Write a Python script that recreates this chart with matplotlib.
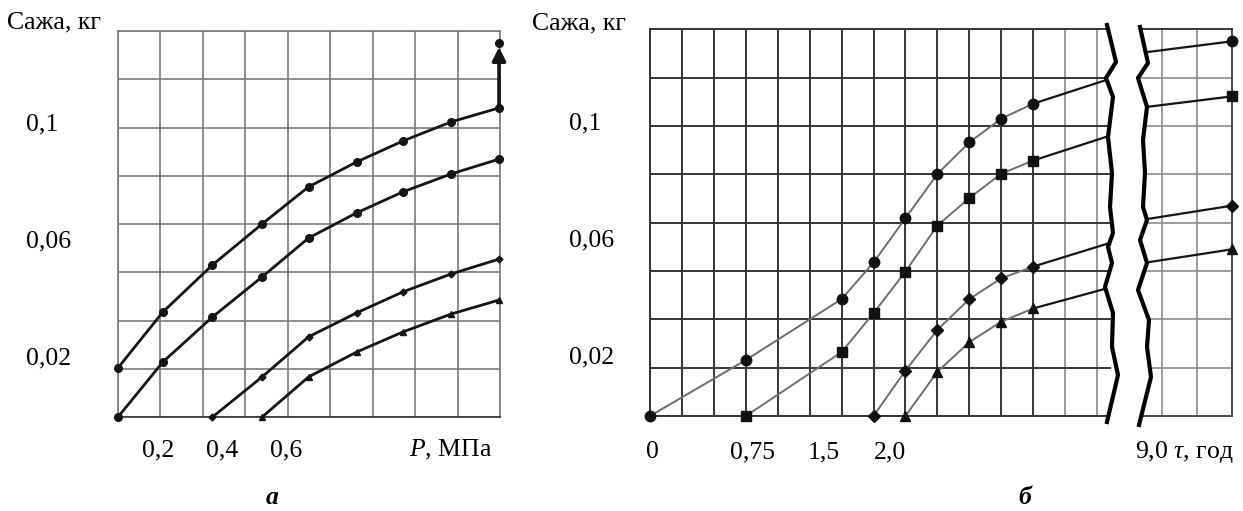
import numpy as np
import matplotlib.pyplot as plt
from matplotlib.patches import Polygon
from matplotlib.transforms import blended_transform_factory

plt.rcParams['font.family'] = ['Liberation Serif', 'DejaVu Serif']
plt.rcParams['mathtext.fontset'] = 'custom'
plt.rcParams['mathtext.rm'] = 'Liberation Serif'
plt.rcParams['mathtext.it'] = 'Liberation Serif:italic'

# --- panel a: soot mass vs pressure ---
p_mpa = [0.075, 0.215, 0.37, 0.525, 0.67, 0.82, 0.965, 1.115, 1.265]
soot_a1 = [0.0168, 0.0359, 0.0520, 0.0660, 0.0787, 0.0872, 0.0944, 0.1009, 0.1057]
soot_a2 = [0.0, 0.0188, 0.0342, 0.0479, 0.0612, 0.0698, 0.0770, 0.0831, 0.0882]
soot_a3 = [0.0, 0.0137, 0.0274, 0.0356, 0.0428, 0.0489, 0.0540]   # from p_mpa[2]
soot_a4 = [0.0, 0.0137, 0.0222, 0.0291, 0.0352, 0.0400]           # from p_mpa[3]
soot_a1_top = 0.1280
a_xticks = [0.2, 0.4, 0.6]
a_xlabels = ['0,2', '0,4', '0,6']

# --- panel b: soot mass vs time ---
tau = [0.0, 0.75, 1.5, 1.75, 2.0, 2.25, 2.5, 2.75, 3.0]
soot_b1 = [0.0, 0.0191, 0.0399, 0.0524, 0.0675, 0.0826, 0.0934, 0.1015, 0.1066]
soot_b2 = [0.0, 0.0218, 0.0351, 0.0493, 0.0650, 0.0744, 0.0827, 0.0872]  # from tau[1]
soot_b3 = [0.0, 0.0155, 0.0294, 0.0399, 0.0470, 0.0510]                  # from tau[3]
soot_b4 = [0.0, 0.0151, 0.0252, 0.0322, 0.0367]                          # from tau[4]
tau_break = 3.58
soot_at_break = [0.1148, 0.0954, 0.0588, 0.0436]
tau_after = [8.39, 9.0]
soot_after = [[0.1242, 0.1279], [0.1055, 0.1091], [0.0672, 0.0718], [0.0524, 0.0569]]
b_xticks = [0.02, 0.80, 1.36, 1.88]   # label spots as printed
b_xlabels = ['0', '0,75', '1,5', '2,0']

y_ticks = [0.02, 0.06, 0.1]
y_labels = ['0,02', '0,06', '0,1']
row = 0.0165
y_top = 8 * row

W, H = 1243, 511
FS = 18.5


def box(l, t, r, b):
    return [l / W, 1 - b / H, (r - l) / W, (b - t) / H]


def ftext(x, y, s, **kw):
    fig.text(x / W, 1 - y / H, s, **kw)


fig = plt.figure(figsize=(W / 100, H / 100), dpi=100)

# ---------------- panel a ----------------
ax1 = fig.add_axes(box(118, 31, 500, 417))
ax1.set_xlim(0.075, 1.268)
ax1.set_ylim(0, y_top)
ax1.set_xticks(np.linspace(0.075, 1.268, 10))
ax1.set_yticks(np.arange(9) * row)
ax1.grid(True, color='#7a7a7a', lw=1.2)
ax1.tick_params(length=0, labelbottom=False, labelleft=False)
for s in ax1.spines.values():
    s.set_color('#7a7a7a')
    s.set_linewidth(1.2)
ax1.spines['bottom'].set_color('#333333')

kw = dict(color='#151515', lw=2, clip_on=False, zorder=3)
ax1.plot(p_mpa, soot_a1, marker='o', ms=5.5, **kw)
ax1.plot(p_mpa, soot_a2, marker='o', ms=5.5, **kw)
ax1.plot(p_mpa[2:], soot_a3, marker='D', ms=3.5, **kw)
ax1.plot(p_mpa[3:], soot_a4, marker='^', ms=4, **kw)
ax1.annotate('', xy=(p_mpa[-1], soot_a1_top - 0.0015), xytext=(p_mpa[-1], soot_a1[-1]),
             arrowprops=dict(arrowstyle='-|>', lw=2.6, color='#151515', mutation_scale=20,
                             shrinkA=0, shrinkB=0),
             annotation_clip=False, zorder=4)
ax1.plot([p_mpa[-1]], [soot_a1_top], marker='o', ms=5.5, color='#151515', clip_on=False, zorder=4)

tr = blended_transform_factory(fig.transFigure, ax1.transData)
for v, t in zip(y_ticks, y_labels):
    ax1.text(26 / W, v, t, transform=tr, ha='left', va='center', fontsize=FS)
tr = blended_transform_factory(ax1.transData, fig.transFigure)
for v, t in zip(a_xticks, a_xlabels):
    ax1.text(v, 1 - 450 / H, t, transform=tr, ha='center', va='center', fontsize=FS)
ftext(409, 450, '$P$, МПа', ha='left', va='center', fontsize=FS)
ftext(7, 22, 'Сажа, кг', ha='left', va='center', fontsize=FS)
ftext(272, 497, 'а', ha='center', va='center', fontsize=FS, fontweight='bold', style='italic')

# ---------------- panel b, main part ----------------
ax2 = fig.add_axes(box(650, 29.3, 1111, 416))
ax2.set_xlim(0, 0.25 * 461 / 31.93)
ax2.set_ylim(0, y_top)
ax2.set_xticks(np.arange(0, 3.51, 0.25))
ax2.set_yticks(np.arange(9) * row)
ax2.grid(True, color='#363636', lw=1.4)
ax2.tick_params(length=0, labelbottom=False, labelleft=False)
for g in ax2.get_xgridlines()[-2:]:
    g.set_color('#9a9a9a')
ax2.spines['right'].set_visible(False)
for k in ('left', 'bottom', 'top'):
    ax2.spines[k].set_color('#363636')
    ax2.spines[k].set_linewidth(1.4)

series = [(tau, soot_b1, 'o', 7.5), (tau[1:], soot_b2, 's', 7),
          (tau[3:], soot_b3, 'D', 6.5), (tau[4:], soot_b4, '^', 7.5)]
for (xs, ys, m, ms), yb in zip(series, soot_at_break):
    ax2.plot(xs, ys, color='#6e6e6e', lw=1.4, zorder=3, clip_on=False)
    ax2.plot([xs[-1], tau_break], [ys[-1], yb], color='#151515', lw=1.6, zorder=3)
    ax2.plot(xs, ys, ls='none', marker=m, ms=ms, color='#111111', zorder=4, clip_on=False)

tr = blended_transform_factory(fig.transFigure, ax2.transData)
for v, t in zip(y_ticks, y_labels):
    ax2.text(569 / W, v, t, transform=tr, ha='left', va='center', fontsize=FS)
tr = blended_transform_factory(ax2.transData, fig.transFigure)
for v, t in zip(b_xticks, b_xlabels):
    ax2.text(v, 1 - 452 / H, t, transform=tr, ha='center', va='center', fontsize=FS)
ftext(532, 23, 'Сажа, кг', ha='left', va='center', fontsize=FS)
ftext(1025, 497, 'б', ha='center', va='center', fontsize=FS, fontweight='bold', style='italic')

# ---------------- panel b, after the break ----------------
ax3 = fig.add_axes(box(1140, 29.3, 1232, 416))
ax3.set_xlim(8.343, 9.0)
ax3.set_ylim(0, y_top)
ax3.set_xticks([8.5, 8.75])
ax3.set_yticks(np.arange(1, 8) * row)
ax3.grid(True, color='#8c8c8c', lw=1.2)
ax3.tick_params(length=0, labelbottom=False, labelleft=False)
ax3.spines['left'].set_visible(False)
ax3.spines['top'].set_color('#363636')
ax3.spines['right'].set_color('#4a4a4a')
ax3.spines['bottom'].set_color('#4a4a4a')
for s in ax3.spines.values():
    s.set_linewidth(1.4)
for (xs, ys, m, ms), ya in zip(series, soot_after):
    ax3.plot(tau_after, ya, color='#151515', lw=1.6, zorder=3, clip_on=False)
    ax3.plot(tau_after[-1:], ya[-1:], ls='none', marker=m, ms=ms, color='#111111',
             zorder=4, clip_on=False)
ftext(1135, 452, '9,0 $τ$, год', ha='left', va='center', fontsize=FS)

# break marks
zig_left = [(1107, 25), (1116, 62), (1106, 78), (1113, 97), (1108, 137), (1112, 173),
            (1110, 207), (1113, 233), (1108, 247), (1112, 263), (1105, 287), (1113, 313),
            (1112, 347), (1118, 375), (1107, 422)]
zig_right = [(1140, 27), (1148, 63), (1138, 78), (1147, 107), (1143, 140), (1145, 173),
             (1143, 207), (1147, 220), (1140, 240), (1147, 263), (1138, 290), (1149, 320),
             (1147, 347), (1151, 377), (1139, 425)]
to_fig = lambda pts: [(x / W, 1 - y / H) for x, y in pts]
gap = Polygon(to_fig(zig_left + zig_right[::-1]), closed=True, facecolor='white',
              edgecolor='none', transform=fig.transFigure, zorder=5)
fig.patches.append(gap)
for z in (zig_left, zig_right):
    pts = np.array(to_fig(z))
    fig.lines.append(plt.Line2D(pts[:, 0], pts[:, 1], color='black', lw=3,
                                transform=fig.transFigure, zorder=6))

fig.savefig('out.png', dpi=100)
